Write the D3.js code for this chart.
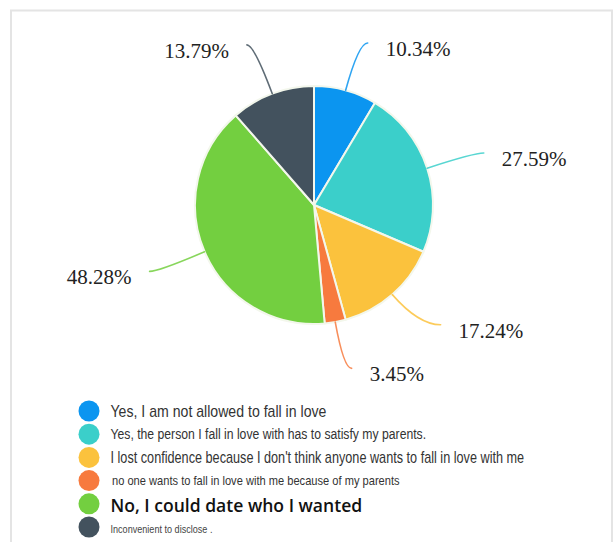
<!DOCTYPE html>
<html>
<head>
<meta charset="utf-8">
<script src="https://cdn.jsdelivr.net/npm/d3@7/dist/d3.min.js"></script>
<style>
  html, body { margin: 0; padding: 0; background: #fff; }
  svg { display: block; }
</style>
</head>
<body>
<svg id="chart" width="613" height="542"></svg>
<script>
// Survey answers and their shares (percent)
const categories = [
  "Yes, I am not allowed to fall in love",
  "Yes, the person I fall in love with has to satisfy my parents.",
  "I lost confidence because I don't think anyone wants to fall in love with me",
  "no one wants to fall in love with me because of my parents",
  "No, I could date who I wanted",
  "Inconvenient to disclose ."
];
const values = [10.34, 27.59, 17.24, 3.45, 48.28, 13.79];
const colors = ["#0b95f0", "#3bcfca", "#fbc23d", "#f77a3e", "#73cf40", "#43525e"];

// Leader line geometry per slice: radial leg, horizontal leg
const leaderRadial = [49, 49, 40, 47, 50, 52];
const leaderFlat = [9, 10, 22, 8, 9, 7];

// Legend text styling per row (width = rendered width of the condensed text)
const narrow = "'Liberation Sans Narrow', 'Liberation Sans', Arial, sans-serif";
const legendStyle = [
  { size: 16,   width: 216, family: narrow, weight: 400, fill: "#333", dy: 6 },
  { size: 14.5, width: 316, family: narrow, weight: 400, fill: "#333", dy: 4.5 },
  { size: 16,   width: 414, family: narrow, weight: 400, fill: "#333", dy: 5.5 },
  { size: 13,   width: 288, family: narrow, weight: 400, fill: "#333", dy: 4.5, x: 112 },
  { size: 17.5, width: 252, family: "'Open Sans', 'Noto Sans', sans-serif", weight: 600, fill: "#111", dy: 8.5 },
  { size: 11.5, width: 102, family: narrow, weight: 400, fill: "#444", dy: 5.5 }
];

const svg = d3.select("#chart");

// Light frame around the chart panel
svg.append("rect")
  .attr("x", 11).attr("y", 10.5)
  .attr("width", 601).attr("height", 560)
  .attr("fill", "#fff")
  .attr("stroke", "#e4e4e4")
  .attr("stroke-width", 2);

const cx = 314, cy = 205, radius = 119;

const pie = d3.pie().sort(null).value(d => d);
const arcs = pie(values);
const arcGen = d3.arc().innerRadius(0).outerRadius(radius);

const g = svg.append("g").attr("transform", `translate(${cx},${cy})`);

g.selectAll("path.slice")
  .data(arcs)
  .join("path")
  .attr("class", "slice")
  .attr("d", arcGen)
  .attr("fill", (d, i) => colors[i])
  .attr("stroke", "#f3f7ec")
  .attr("stroke-width", 2)
  .attr("stroke-linejoin", "round");

// Leader lines and percent labels
const fmt = v => d3.format(".2f")(v) + "%";

arcs.forEach((d, i) => {
  const mid = (d.startAngle + d.endAngle) / 2;
  const sx = Math.sin(mid), sy = -Math.cos(mid);
  const side = sx >= 0 ? 1 : -1;
  const p0 = [sx * radius, sy * radius];
  const r1 = radius + leaderRadial[i];
  const p1 = [sx * r1, sy * r1];
  const p2 = [p1[0] + side * leaderFlat[i], p1[1]];

  const path = d3.path();
  path.moveTo(p0[0], p0[1]);
  path.quadraticCurveTo(p1[0], p1[1], p2[0], p2[1]);

  g.append("path")
    .attr("d", path.toString())
    .attr("fill", "none")
    .attr("stroke", colors[i])
    .attr("stroke-opacity", 0.85)
    .attr("stroke-width", 1.6)
    .attr("stroke-linecap", "round");

  g.append("text")
    .attr("x", p2[0] + side * 18)
    .attr("y", p2[1] + 13)
    .attr("text-anchor", side > 0 ? "start" : "end")
    .attr("font-family", "'Liberation Serif', 'Times New Roman', serif")
    .attr("font-size", 21)
    .attr("fill", "#222")
    .text(fmt(values[i]));
});

// Legend: swatch circles and horizontally condensed labels
const legendX = 89, legendY0 = 411, legendStep = 23.2;
const legend = svg.append("g");

categories.forEach((c, i) => {
  const y = legendY0 + i * legendStep;
  const st = legendStyle[i];
  legend.append("circle")
    .attr("cx", legendX).attr("cy", y).attr("r", 10.5)
    .attr("fill", colors[i]);
  const row = legend.append("g");
  const t = row.append("text")
    .attr("x", 0)
    .attr("y", 0)
    .attr("font-family", st.family)
    .attr("font-size", st.size)
    .attr("font-weight", st.weight)
    .attr("fill", st.fill)
    .text(c);
  const natural = t.node().getComputedTextLength() || st.width;
  const k = st.width / natural;
  row.attr("transform", `translate(${st.x || 110.5},${y + st.dy}) scale(${k},1)`);
});
</script>
</body>
</html>
